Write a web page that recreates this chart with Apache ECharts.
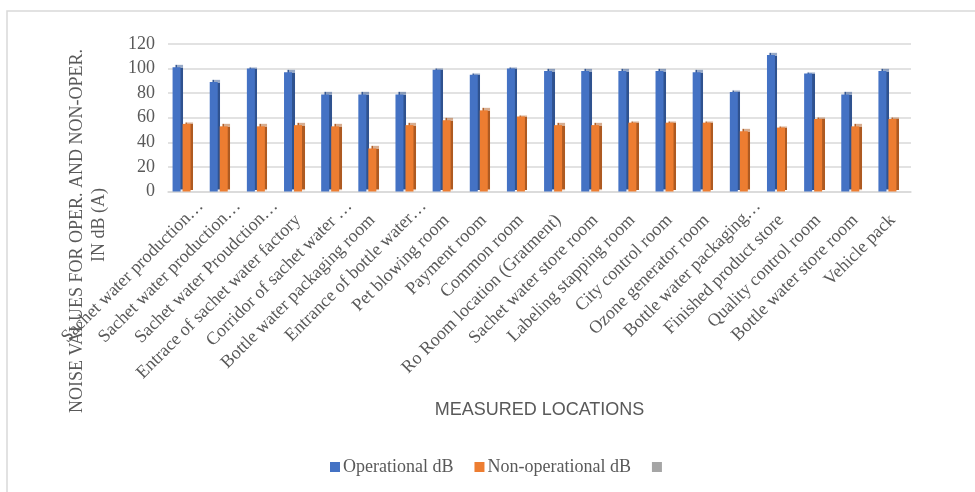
<!DOCTYPE html>
<html>
<head>
<meta charset="utf-8">
<script src="https://cdn.jsdelivr.net/npm/echarts@6/dist/echarts.min.js"></script>
<style>
  html, body { margin: 0; padding: 0; background: #fff; }
  #chart { width: 975px; height: 492px; }
</style>
</head>
<body>
<div id="chart"></div>
<script>
// Measured locations (long names are shortened with an ellipsis)
const locations = [
  'Sachet water production…',
  'Sachet water production…',
  'Sachet water Proudction…',
  'Entrace of sachet water factory',
  'Corridor of sachet water …',
  'Bottle water packaging room',
  'Entrance of bottle water…',
  'Pet blowing room',
  'Payment room',
  'Common room',
  'Ro Room location (Gratment)',
  'Sachet water store room',
  'Labeling stapping room',
  'City control room',
  'Ozone generator room',
  'Bottle water packaging…',
  'Finished product store',
  'Quality control room',
  'Bottle water store room',
  'Vehicle pack'
];

// Noise levels in dB(A)
const operational = [101, 89, 100, 97, 79, 79, 79, 99, 95, 100, 98, 98, 98, 98, 97, 81, 111, 96, 79, 98];
const nonOperational = [55, 53, 53, 54, 53, 35, 54, 58, 66, 61, 54, 54, 56, 56, 56, 49, 52, 59, 53, 59];

const yTicks = [0, 20, 40, 60, 80, 100, 120];

const serif = '"Liberation Serif", "DejaVu Serif", serif';
const grey = '#595959';

const chart = echarts.init(document.getElementById('chart'), null, { renderer: 'canvas' });

const categoryData = locations.map(function (name) {
  const item = { value: name };
  if (name.endsWith('…')) {
    // ellipsised labels run a little past their tick
    item.textStyle = { padding: [0, -20, 0, 0] };
  }
  return item;
});

const titleFont = '18px ' + serif;

chart.setOption({
  animation: false,
  backgroundColor: '#ffffff',
  grid: { left: 168, right: 64, top: 44, bottom: 300.5, containLabel: false },
  graphic: [
    {
      type: 'rect',
      shape: { x: 7, y: 11, width: 1000, height: 520 },
      style: { fill: 'none', stroke: '#d9d9d9', lineWidth: 1.5 },
      silent: true, z: -10
    },
    {
      type: 'text',
      x: 77, y: 231,
      rotation: Math.PI / 2,
      style: {
        text: 'NOISE VALUES FOR OPER. AND NON-OPER.',
        font: titleFont, fill: grey,
        align: 'center', verticalAlign: 'middle'
      }
    },
    {
      type: 'text',
      x: 99, y: 225,
      rotation: Math.PI / 2,
      style: {
        text: 'IN dB (A)',
        font: titleFont, fill: grey,
        align: 'center', verticalAlign: 'middle'
      }
    }
  ],
  legend: {
    left: 330,
    top: 458,
    padding: 0,
    icon: 'rect',
    itemWidth: 10,
    itemHeight: 10,
    itemGap: 21,
    textStyle: { fontFamily: serif, fontSize: 18, color: grey, padding: [0, 0, 0, -2] },
    data: ['Operational dB', 'Non-operational dB', ' ']
  },
  xAxis: {
    type: 'category',
    data: categoryData,
    name: 'MEASURED LOCATIONS',
    nameLocation: 'middle',
    nameGap: 210,
    nameTextStyle: { fontFamily: '"Liberation Sans", Arial, sans-serif', fontSize: 18, color: grey },
    axisLine: { show: true, lineStyle: { color: '#d9d9d9', width: 1.5 } },
    axisTick: { show: false },
    axisLabel: {
      interval: 0,
      rotate: 45,
      margin: 26,
      fontFamily: serif,
      fontSize: 18,
      color: grey
    }
  },
  yAxis: {
    type: 'value',
    min: yTicks[0],
    max: yTicks[yTicks.length - 1],
    interval: 20,
    axisLine: { show: false },
    axisTick: { show: false },
    axisLabel: { margin: 13, fontFamily: serif, fontSize: 18, color: grey, padding: [6, 0, 0, 0] },
    splitLine: { lineStyle: { color: '#d9d9d9', width: 1.5 } }
  },
  series: [
    {
      name: 'Operational dB',
      type: 'bar',
      data: operational,
      barWidth: 8,
      barGap: '25%',
      itemStyle: {
        color: '#4472C4',
        shadowColor: '#2F528F',
        shadowOffsetX: 2.5,
        shadowOffsetY: -2,
        shadowBlur: 1
      }
    },
    {
      name: 'Non-operational dB',
      type: 'bar',
      data: nonOperational,
      barWidth: 8,
      itemStyle: {
        color: '#ED7D31',
        shadowColor: '#AE5A21',
        shadowOffsetX: 2.5,
        shadowOffsetY: -2,
        shadowBlur: 1
      }
    },
    {
      name: ' ',
      type: 'bar',
      data: [],
      barWidth: 8,
      itemStyle: { color: '#A5A5A5' }
    }
  ]
});
</script>
</body>
</html>
